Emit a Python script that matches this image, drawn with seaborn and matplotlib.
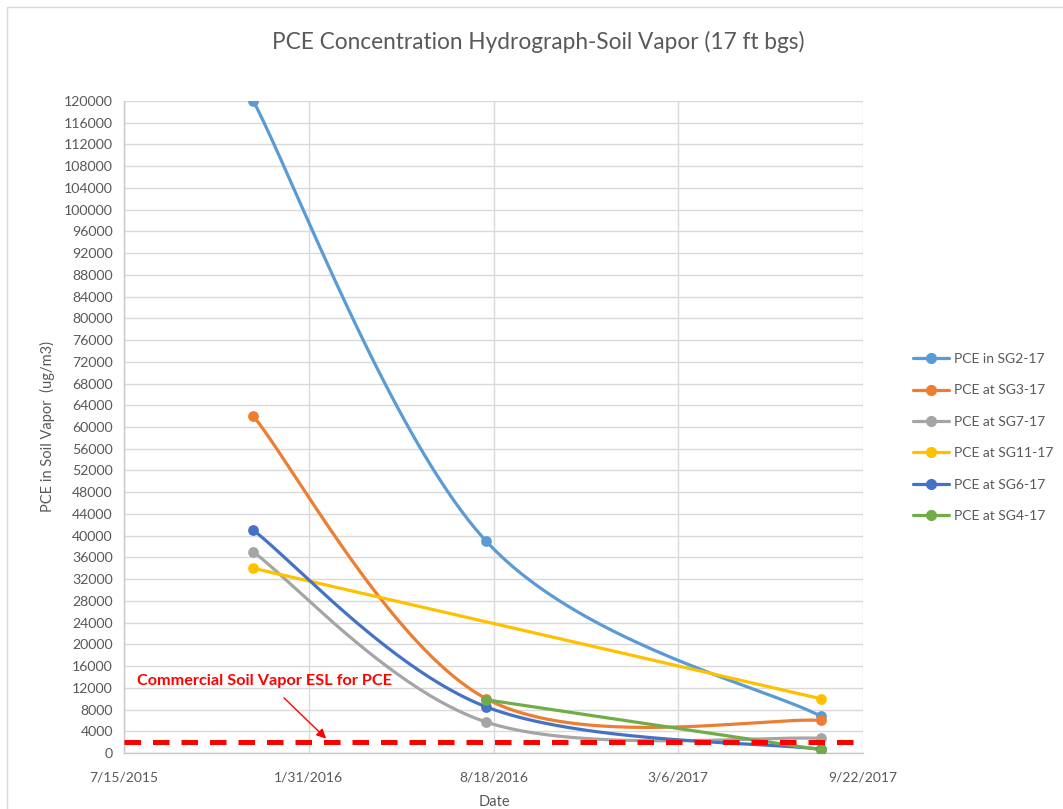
import numpy as np
import pandas as pd
import matplotlib
matplotlib.use("Agg")
import matplotlib.pyplot as plt
import matplotlib.dates as mdates
from matplotlib.lines import Line2D
import seaborn as sns

# sample dates and PCE values (ug/m3)
dates3 = ["2015-12-02", "2016-08-10", "2017-08-07"]
sg2 = [120000, 39000, 6800]
sg3 = [62000, 10000, 6000]
sg7 = [37000, 5700, 2700]
sg11_dates = ["2015-12-02", "2017-08-07"]
sg11 = [34000, 10000]
sg6 = [41000, 8500, 700]
sg4_dates = ["2016-08-10", "2017-08-07"]
sg4 = [9800, 600]

esl = 2000
tick_dates = ["2015-07-15", "2016-01-31", "2016-08-18", "2017-03-06", "2017-09-22"]
tick_labels = ["7/15/2015", "1/31/2016", "8/18/2016", "3/6/2017", "9/22/2017"]

series = [
    ("PCE in SG2-17", dates3, sg2, "#5B9BD5"),
    ("PCE at SG3-17", dates3, sg3, "#ED7D31"),
    ("PCE at SG7-17", dates3, sg7, "#A5A5A5"),
    ("PCE at SG11-17", sg11_dates, sg11, "#FFC000"),
    ("PCE at SG6-17", dates3, sg6, "#4472C4"),
    ("PCE at SG4-17", sg4_dates, sg4, "#70AD47"),
]


def smooth(xs, ys, n=80):
    # excel style smoothed line (bezier through the points)
    p = np.column_stack([xs, ys]).astype(float)
    if len(p) < 3:
        return p[:, 0], p[:, 1]
    out = []
    t = np.linspace(0, 1, n)[:, None]
    for i in range(len(p) - 1):
        p0 = p[max(i - 1, 0)]
        p1 = p[i]
        p2 = p[i + 1]
        p3 = p[min(i + 2, len(p) - 1)]
        b1 = p1 + (p2 - p0) / 6
        b2 = p2 - (p3 - p1) / 6
        seg = (1 - t) ** 3 * p1 + 3 * (1 - t) ** 2 * t * b1 + 3 * (1 - t) * t ** 2 * b2 + t ** 3 * p2
        out.append(seg if i == 0 else seg[1:])
    out = np.vstack(out)
    return out[:, 0], out[:, 1]


sns.set_theme(style="whitegrid")
plt.rcParams['font.family'] = ['Lato', 'DejaVu Sans']
grey = "#595959"

fig = plt.figure(figsize=(10.63, 8.09), dpi=100)
ax = fig.add_axes([124 / 1063, 1 - 753 / 809, (863 - 124) / 1063, (753 - 101) / 809])
ax.set_facecolor("white")

handles = []
for name, d, v, c in series:
    x = mdates.date2num(pd.to_datetime(d))
    sx, sy = smooth(x, v)
    ax.plot(sx, sy, color=c, lw=2.3, solid_capstyle="round", zorder=3)
    df = pd.DataFrame({"x": x, "y": v})
    sns.scatterplot(data=df, x="x", y="y", color=c, s=60, edgecolor=c, linewidth=0, ax=ax, zorder=4)
    handles.append(Line2D([], [], color=c, lw=2.3, marker="o", markersize=7, label=name))

ax.axhline(esl, color="#FF0000", lw=3.6, ls=(0, (3.3, 2.4)), dash_capstyle="butt", zorder=5)

xt = mdates.date2num(pd.to_datetime(tick_dates))
ax.set_xlim(xt[0], xt[-1])
ax.set_ylim(0, 120000)
ax.set_xticks(xt)
ax.set_xticklabels(tick_labels)
ax.set_yticks(np.arange(0, 120001, 4000))
ax.set_yticklabels([str(v) for v in range(0, 120001, 4000)])
ax.tick_params(axis="both", length=0, colors=grey)
ax.tick_params(axis="y", labelsize=10.2, pad=8)
ax.tick_params(axis="x", labelsize=10, pad=13)
ax.grid(True, color="#D9D9D9", lw=1)
ax.set_xlabel("")
ax.set_ylabel("")
for s in ["top", "right"]:
    ax.spines[s].set_visible(False)
for s in ["left", "bottom"]:
    ax.spines[s].set_color("#C8C8C8")
    ax.spines[s].set_linewidth(1)

# annotation for the ESL line
ax.text(mdates.date2num(pd.Timestamp("2015-12-14")), 13300, "Commercial Soil Vapor ESL for PCE",
        color="#FF0000", fontsize=11.7, fontweight="bold", ha="center", va="center", zorder=6)
ax.annotate("", xy=(mdates.date2num(pd.Timestamp("2016-02-21")), esl + 300),
            xytext=(mdates.date2num(pd.Timestamp("2016-01-02")), 10500),
            arrowprops=dict(arrowstyle="-|>", color="#FF0000", lw=1, mutation_scale=14), zorder=6)

fig.text(538 / 1063, 1 - 42 / 809, "PCE Concentration Hydrograph-Soil Vapor (17 ft bgs)",
         ha="center", va="center", fontsize=16.3, color=grey)
fig.text(47 / 1063, 1 - 427 / 809, "PCE in Soil Vapor  (ug/m3)", rotation=90,
         ha="center", va="center", fontsize=10.5, color=grey)
fig.text(494 / 1063, 1 - 802 / 809, "Date", ha="center", va="center", fontsize=10.5, color=grey)

ax.legend(handles=handles, loc="upper left", bbox_to_anchor=(913 / 1063, 1 - 353 / 809),
          bbox_transform=fig.transFigure, frameon=False, fontsize=10, labelcolor=grey,
          handlelength=2.6, handletextpad=0.35, labelspacing=1.4, borderpad=0, borderaxespad=0)

# chart area border
fig.add_artist(Line2D([7 / 1063, 7 / 1063], [0, 1 - 7 / 809], color="#D9D9D9", lw=1))
fig.add_artist(Line2D([7 / 1063, 1], [1 - 7 / 809, 1 - 7 / 809], color="#D9D9D9", lw=1))

fig.savefig("out.png", dpi=100)
